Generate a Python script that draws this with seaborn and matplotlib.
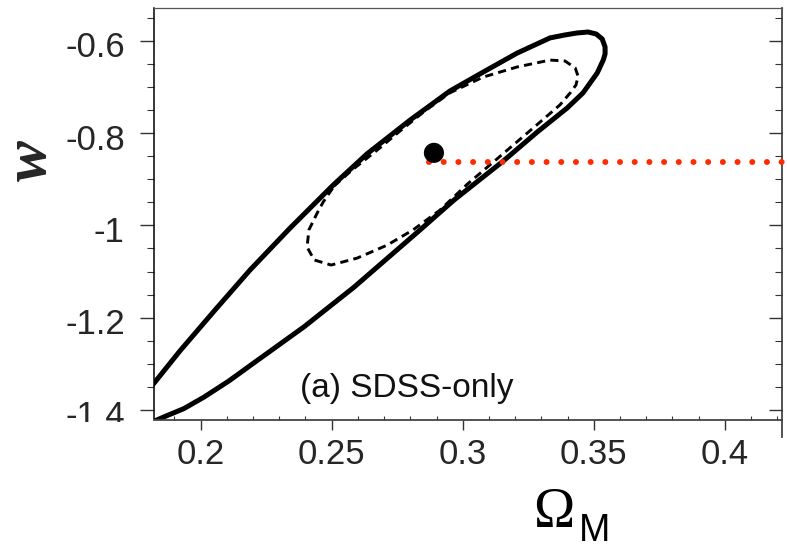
import matplotlib
matplotlib.use("Agg")
import matplotlib.pyplot as plt
import pandas as pd
import seaborn as sns
from matplotlib.ticker import MultipleLocator
from matplotlib.transforms import Bbox, TransformedBbox, ScaledTranslation

# Outer (95%) confidence contour in the (Omega_M, w) plane
outer_om = [0.1768, 0.1822, 0.1921, 0.2051, 0.2188, 0.2341, 0.2505, 0.2635,
            0.2799, 0.2951, 0.3078, 0.3207, 0.3333, 0.3390, 0.3436, 0.3478,
            0.3509, 0.3532, 0.3543, 0.3543, 0.3536, 0.3513, 0.3459, 0.3398,
            0.3284, 0.3154, 0.2967, 0.2837, 0.2585, 0.2394, 0.2203, 0.2108,
            0.2013, 0.1936, 0.1860, 0.1730]
outer_w = [-1.378, -1.342, -1.272, -1.186, -1.097, -1.006, -0.913, -0.845,
           -0.772, -0.709, -0.668, -0.627, -0.594, -0.5876, -0.5833, -0.5812,
           -0.5855, -0.5963, -0.6137, -0.6288, -0.642, -0.670, -0.713, -0.746,
           -0.798, -0.861, -0.945, -1.010, -1.134, -1.220, -1.298, -1.337,
           -1.372, -1.397, -1.415, -1.447]

# Inner (68%) confidence contour
inner_om = [0.2509, 0.2578, 0.2665, 0.2760, 0.2856, 0.2951, 0.3077, 0.3207,
            0.3333, 0.3390, 0.3429, 0.3440, 0.3432, 0.3410, 0.3371, 0.3269,
            0.3135, 0.3017, 0.2913, 0.2810, 0.2711, 0.2597, 0.2498, 0.2433,
            0.2406, 0.2413, 0.2444, 0.2467, 0.2509]
inner_w = [-0.915, -0.880, -0.841, -0.796, -0.752, -0.713, -0.679, -0.657,
           -0.642, -0.644, -0.659, -0.677, -0.696, -0.713, -0.739, -0.789,
           -0.854, -0.911, -0.967, -1.010, -1.043, -1.071, -1.086, -1.075,
           -1.047, -1.010, -0.974, -0.950, -0.915]

# Best-fit point and reference level
best_om = [0.289]
best_w = [-0.843]
ref_om = [0.287, 0.4218]
ref_w = [-0.862, -0.862]

x_ticks = [0.2, 0.25, 0.3, 0.35, 0.4]
x_tick_labels = ["0.2", "0.25", "0.3", "0.35", "0.4"]
y_ticks = [-0.6, -0.8, -1.0, -1.2, -1.4]
y_tick_labels = ["-0.6", "-0.8", "-1", "-1.2", "-1.4"]

panel_label = "(a) SDSS-only"

sns.set_theme(style="white")
plt.rcParams["font.family"] = ["Liberation Sans", "DejaVu Sans"]

W, H = 787, 551
fig = plt.figure(figsize=(W / 100, H / 100), dpi=100)
ax = fig.add_axes([154 / W, 1 - 419.5 / H, (782 - 154) / W, (419.5 - 8) / H])

outer = pd.DataFrame({"om": outer_om, "w": outer_w})
inner = pd.DataFrame({"om": inner_om, "w": inner_w})
ref = pd.DataFrame({"om": ref_om, "w": ref_w})
best = pd.DataFrame({"om": best_om, "w": best_w})

sns.lineplot(data=outer, x="om", y="w", sort=False, estimator=None,
             color="black", lw=3.6, ax=ax, solid_joinstyle="round",
             solid_capstyle="round")
sns.lineplot(data=inner, x="om", y="w", sort=False, estimator=None,
             color="black", lw=2.1, ax=ax, linestyle=(0, (2.8, 1.8)))
sns.lineplot(data=ref, x="om", y="w", sort=False, estimator=None,
             color="#ff2a00", lw=4.3, ax=ax, linestyle=(0, (0.01, 2.45)),
             dash_capstyle="round", clip_on=False, zorder=4)
sns.scatterplot(data=best, x="om", y="w", s=210, color="black",
                edgecolor="none", ax=ax, zorder=5)

ax.set_xlim(0.1822, 0.4218)
ax.set_ylim(-1.4206, -0.5292)

ax.set_xticks(x_ticks, x_tick_labels)
ax.set_yticks(y_ticks, y_tick_labels)
ax.xaxis.set_minor_locator(MultipleLocator(0.01))
ax.yaxis.set_minor_locator(MultipleLocator(0.05))

ax.tick_params(axis="x", which="major", direction="out", length=7, width=1.0,
               color="#333333", labelsize=25, pad=6, top=False, bottom=True)
ax.tick_params(axis="x", which="minor", direction="in", length=3, width=0.8,
               color="#333333", top=False, bottom=True)
ax.tick_params(axis="y", which="major", direction="out", length=10, width=1.0,
               color="#333333", labelsize=25, pad=11, left=True, right=False)
ax.tick_params(axis="y", which="minor", direction="out", length=5, width=0.8,
               color="#333333", left=True, right=False)

# right-hand axis carries inward ticks only
ax2 = ax.twinx()
ax2.set_ylim(ax.get_ylim())
ax2.set_yticks(y_ticks, [""] * len(y_ticks))
ax2.yaxis.set_minor_locator(MultipleLocator(0.05))
ax2.tick_params(axis="y", which="major", direction="in", length=9.5, width=1.0,
                color="#333333", right=True, left=False)
ax2.tick_params(axis="y", which="minor", direction="in", length=5, width=0.8,
                color="#333333", right=True, left=False)
for s in ax2.spines.values():
    s.set_visible(False)

ax.spines["left"].set_color("black")
ax.spines["left"].set_linewidth(1.1)
ax.spines["bottom"].set_color("#444444")
ax.spines["bottom"].set_linewidth(1.3)
ax.spines["top"].set_color("#555555")
ax.spines["top"].set_linewidth(0.9)
ax.spines["right"].set_color("#444444")
ax.spines["right"].set_linewidth(1.3)
ax.spines["right"].set_bounds(-1.4586, -0.5292)

ax.set_xlabel("")
ax.set_ylabel("w", family=["Liberation Serif", "DejaVu Serif"], style="italic",
              weight="bold", fontsize=44, rotation=90)
ax.yaxis.set_label_coords(-0.152, 0.628)

fig.text(533 / W, 1 - 527 / H, "\u03a9", family=["Liberation Serif", "DejaVu Serif"],
         fontsize=40, ha="left", va="baseline", color="black")
fig.text(579 / W, 1 - 541 / H, "M", fontsize=27, ha="left", va="baseline",
         color="black")

ax.text(0.2379, -1.372, panel_label, fontsize=24, ha="left", va="baseline",
        color="#111111")

# y tick labels sit a touch below their ticks; the lowest one is cut by the frame
fig.canvas.draw()
shift = ScaledTranslation(0, -0.035, fig.dpi_scale_trans)
clip = TransformedBbox(Bbox([[0, 1 - 421.5 / H], [1, 1]]), fig.transFigure)
for lab in ax.get_yticklabels():
    lab.set_transform(lab.get_transform() + shift)
    if lab.get_text() == "-1.4":
        lab.set_clip_box(clip)
        lab.set_clip_on(True)

fig.savefig("out.png", dpi=100)
